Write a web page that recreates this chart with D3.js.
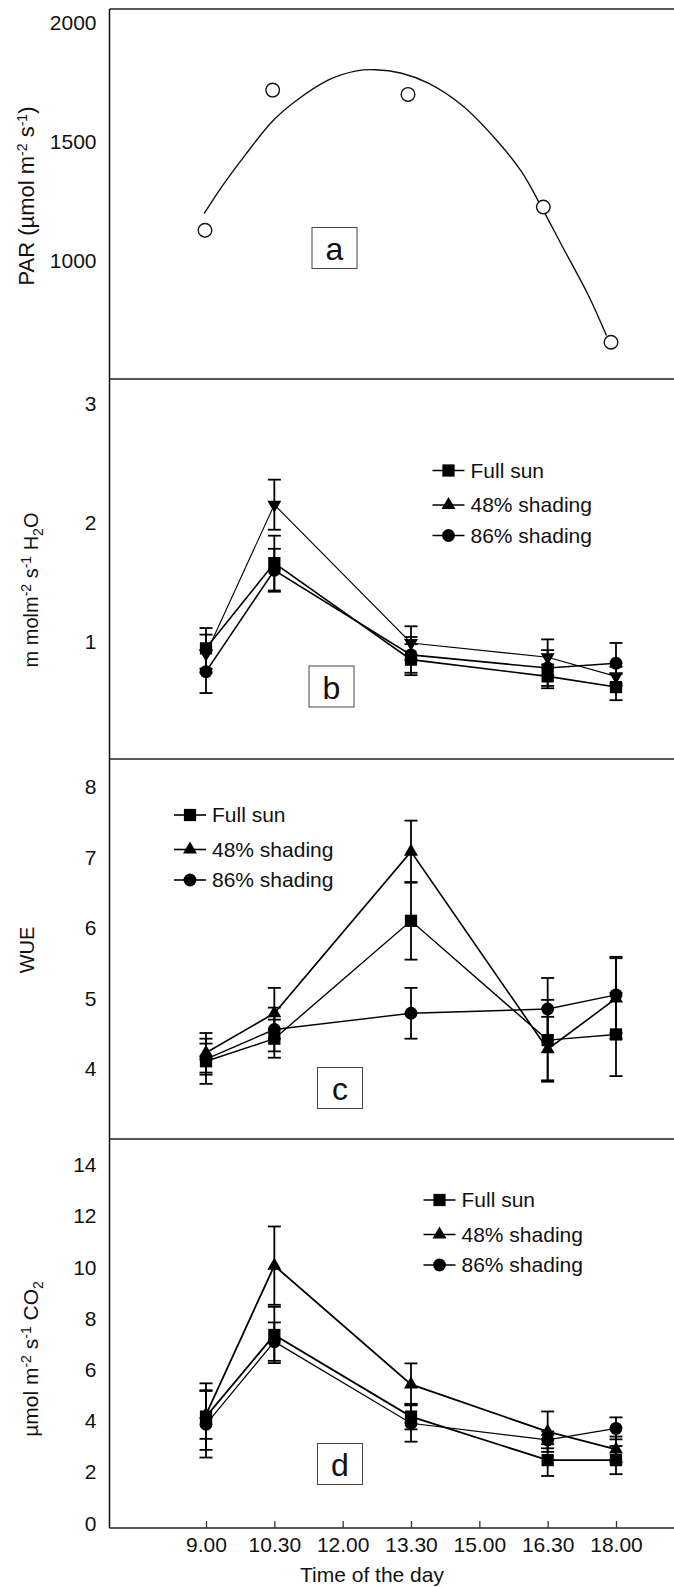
<!DOCTYPE html>
<html>
<head>
<meta charset="utf-8">
<script src="https://cdn.jsdelivr.net/npm/d3@7"></script>
<style>
body { margin: 0; background: #fff; }
svg { display: block; font-family: "Liberation Sans", Arial, sans-serif; }
</style>
</head>
<body>
<div id="chart"></div>
<script>
// ---- data ----
const times = [9, 10.5, 13.5, 16.5, 18];
const tickTimes = [9, 10.5, 12, 13.5, 15, 16.5, 18];
const tickLabels = ["9.00", "10.30", "12.00", "13.30", "15.00", "16.30", "18.00"];
const seriesNames = ["Full sun", "48% shading", "86% shading"];

// a: PAR
const parValues = [1127, 1718, 1700, 1225, 655];
const parFitHours  = [8.98, 9.37, 9.89, 10.48, 10.99, 11.73, 12.33, 12.77, 13.36, 13.95, 14.69, 15.43, 16.02, 16.46, 16.91, 17.50, 17.90];
const parFitValues = [1197, 1310, 1444, 1584, 1669, 1760, 1798, 1804, 1789, 1747, 1655, 1514, 1373, 1225, 1063, 852, 683];

// b: transpiration
const transFull   = [0.945, 1.66, 0.85, 0.71, 0.62];
const transFullSE = [0.17, 0.23, 0.13, 0.10, 0.11];
const trans48     = [0.90, 2.15, 0.99, 0.87, 0.71];
const trans48SE   = [0.16, 0.21, 0.14, 0.15, 0.08];
const trans86     = [0.75, 1.60, 0.89, 0.78, 0.82];
const trans86SE   = [0.18, 0.18, 0.15, 0.15, 0.17];

// c: WUE
const wueFull   = [4.11, 4.43, 6.10, 4.41, 4.49];
const wueFullSE = [0.32, 0.27, 0.55, 0.57, 0.59];
const wue48     = [4.23, 4.79, 7.08, 4.28, 5.00];
const wue48SE   = [0.28, 0.36, 0.44, 0.46, 0.57];
const wue86     = [4.14, 4.56, 4.79, 4.85, 5.05];
const wue86SE   = [0.22, 0.31, 0.36, 0.44, 0.54];

// d: photosynthesis
const photoFull   = [4.17, 7.36, 4.17, 2.47, 2.47];
const photoFullSE = [1.30, 1.10, 0.50, 0.62, 0.55];
const photo48     = [4.25, 10.07, 5.43, 3.58, 2.89];
const photo48SE   = [0.95, 1.53, 0.82, 0.79, 0.50];
const photo86     = [3.87, 7.10, 3.91, 3.26, 3.71];
const photo86SE   = [1.30, 0.75, 0.72, 0.33, 0.43];

const parTicks = [1000, 1500, 2000];
const transTicks = [1, 2, 3];
const wueTicks = [4, 5, 6, 7, 8];
const photoTicks = [0, 2, 4, 6, 8, 10, 12, 14];

// ---- layout ----
const W = 674, H = 1587;
const left = 109.5;
const borders = [9, 379, 759, 1139, 1528];
const fontSize = 21;

const svg = d3.select('#chart').append('svg').attr('width', W).attr('height', H);
svg.append('rect').attr('width', W).attr('height', H).attr('fill', '#fff');

const x = d3.scaleLinear().domain([9, 18]).range([206, 616]);
const xA = d3.scaleLinear().domain([9, 18]).range([205, 611]);

const yA = d3.scaleLinear().domain([500, 2060]).range([379, 9]);
const yB = d3.scaleLinear().domain([0, 3.2]).range([761, 379.5]);
const yC = d3.scaleLinear().domain([3, 8.4]).range([1139.6, 758.5]);
const yD = d3.scaleLinear().domain([0, 15]).range([1523.3, 1139.5]);

// frame
svg.append('line').attr('x1', left).attr('x2', left).attr('y1', borders[0]).attr('y2', borders[4])
    .attr('stroke', '#111').attr('stroke-width', 1.5);
borders.forEach(b => {
    svg.append('line').attr('x1', left).attr('x2', W).attr('y1', b).attr('y2', b)
        .attr('stroke', '#222').attr('stroke-width', 1.5);
});

function yAxis(scale, ticks) {
    const g = svg.append('g').attr('transform', `translate(${left}, 0)`)
        .call(d3.axisLeft(scale).tickValues(ticks).tickSize(0).tickPadding(13).tickFormat(d3.format('d')));
    g.select('.domain').remove();
    g.selectAll('text').attr('font-size', fontSize).attr('font-family', null).attr('fill', '#111');
}
yAxis(yA, parTicks);
yAxis(yB, transTicks);
yAxis(yC, wueTicks);
yAxis(yD, photoTicks);

// x axis (inward ticks)
const xg = svg.append('g').attr('transform', `translate(0, ${borders[4]})`)
    .call(d3.axisBottom(x).tickValues(tickTimes).tickSize(-7).tickPadding(9).tickFormat((d, i) => tickLabels[i]));
xg.select('.domain').remove();
xg.selectAll('line').attr('stroke', '#333').attr('stroke-width', 1.3);
xg.selectAll('text').attr('font-size', fontSize).attr('font-family', null).attr('fill', '#111');

svg.append('text').attr('x', 372).attr('y', 1582).attr('text-anchor', 'middle')
    .attr('font-size', fontSize).attr('fill', '#111').text('Time of the day');

// rotated y labels with super/subscripts
function yLabel(cx, cy, size, parts) {
    const t = svg.append('text').attr('transform', `translate(${cx}, ${cy}) rotate(-90)`)
        .attr('text-anchor', 'middle').attr('font-size', size).attr('fill', '#111');
    let shift = 0;
    parts.forEach(([txt, kind]) => {
        const target = kind === 'sup' ? -7 : kind === 'sub' ? 5 : 0;
        t.append('tspan').attr('dy', target - shift)
            .attr('font-size', kind ? 14 : size).text(txt);
        shift = target;
    });
}
yLabel(34, 196, 22, [['PAR (µmol m'], ['-2', 'sup'], [' s'], ['-1', 'sup'], [')']]);
yLabel(38, 590, 20, [['m molm'], ['-2', 'sup'], [' s'], ['-1', 'sup'], [' H'], ['2', 'sub'], ['O']]);
yLabel(34, 950, 20, [['WUE']]);
yLabel(38, 1359, 21, [['µmol m'], ['-2', 'sup'], [' s'], ['-1', 'sup'], [' CO'], ['2', 'sub']]);

// panel labels
const boxes = [
    {t: 'a', x: 312, y: 227.5},
    {t: 'b', x: 309, y: 666},
    {t: 'c', x: 317.5, y: 1067.5},
    {t: 'd', x: 317.5, y: 1443.5}
];
boxes.forEach(b => {
    svg.append('rect').attr('x', b.x).attr('y', b.y).attr('width', 45).attr('height', 41)
        .attr('fill', '#fff').attr('stroke', '#444').attr('stroke-width', 1);
    svg.append('text').attr('x', b.x + 22.5).attr('y', b.y + 32.5).attr('text-anchor', 'middle')
        .attr('font-size', 32).attr('fill', '#111').text(b.t);
});

// panel a
svg.append('path').datum(parFitHours.map((h, i) => [h, parFitValues[i]]))
    .attr('fill', 'none').attr('stroke', '#111').attr('stroke-width', 1.4)
    .attr('d', d3.line().x(d => xA(d[0])).y(d => yA(d[1])).curve(d3.curveCatmullRom));
svg.selectAll('.par').data(parValues).enter().append('circle')
    .attr('cx', (d, i) => xA(times[i])).attr('cy', d => yA(d)).attr('r', 6.8)
    .attr('fill', '#fff').attr('stroke', '#111').attr('stroke-width', 1.4);

// markers
const symSquare = d3.symbol().type(d3.symbolSquare).size(150)();
const symTri = d3.symbol().type(d3.symbolTriangle).size(85)();
const symCircle = d3.symbol().type(d3.symbolCircle).size(130)();

function marker(g, kind, cx, cy, down) {
    const p = kind === 0 ? symSquare : kind === 1 ? symTri : symCircle;
    g.append('path').attr('d', p).attr('fill', '#000')
        .attr('transform', `translate(${cx}, ${cy})${down ? ' rotate(180)' : ''}`);
}

function drawPanel(y, series, ses, widths, triDown) {
    const g = svg.append('g');
    series.forEach((vals, s) => {
        g.append('path').datum(vals).attr('fill', 'none').attr('stroke', '#000')
            .attr('stroke-width', widths[s])
            .attr('d', d3.line().x((d, i) => x(times[i])).y(d => y(d)));
    });
    series.forEach((vals, s) => {
        vals.forEach((v, i) => {
            const cx = x(times[i]), se = ses[s][i];
            const y1 = y(v + se), y2 = y(v - se);
            g.append('line').attr('x1', cx).attr('x2', cx).attr('y1', y1).attr('y2', y2)
                .attr('stroke', '#000').attr('stroke-width', 1.8);
            [y1, y2].forEach(yy => g.append('line').attr('x1', cx - 6.5).attr('x2', cx + 6.5)
                .attr('y1', yy).attr('y2', yy).attr('stroke', '#000').attr('stroke-width', 1.8));
        });
    });
    series.forEach((vals, s) => {
        vals.forEach((v, i) => marker(g, s, x(times[i]), y(v), s === 1 && triDown));
    });
}

drawPanel(yB, [transFull, trans48, trans86], [transFullSE, trans48SE, trans86SE], [1.6, 1.1, 1.6], true);
drawPanel(yC, [wueFull, wue48, wue86], [wueFullSE, wue48SE, wue86SE], [1.4, 1.6, 1.4], false);
drawPanel(yD, [photoFull, photo48, photo86], [photoFullSE, photo48SE, photo86SE], [1.8, 1.8, 1.2], false);

// legends
const legendRows = [0, 34.5, 65];
function legend(lx, ly) {
    const g = svg.append('g').attr('transform', `translate(${lx}, ${ly})`);
    seriesNames.forEach((name, i) => {
        const ry = legendRows[i];
        g.append('line').attr('x1', 0).attr('x2', 32).attr('y1', ry).attr('y2', ry)
            .attr('stroke', '#000').attr('stroke-width', 1.6);
        marker(g, i, 16, ry, false);
        g.append('text').attr('x', 38).attr('y', ry).attr('dy', '0.35em')
            .attr('font-size', fontSize).attr('fill', '#111').text(name);
    });
}
legend(432.5, 470.5);
legend(174, 815);
legend(423.5, 1200);
</script>
</body>
</html>
